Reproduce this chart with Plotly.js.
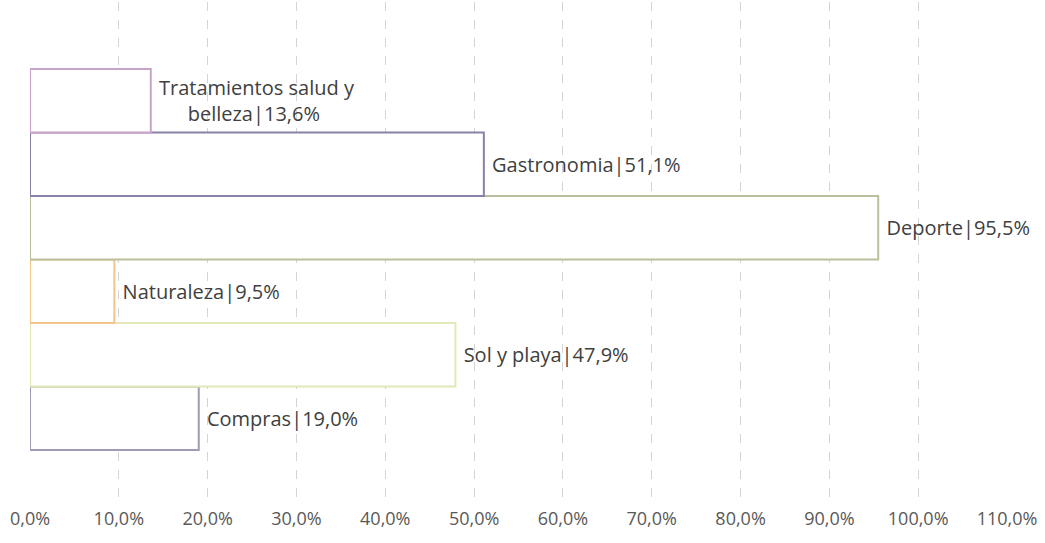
<!DOCTYPE html>
<html>
<head>
<meta charset="utf-8">
<script src="https://cdn.plot.ly/plotly-3.0.1.min.js"></script>
<style>html,body{margin:0;padding:0;background:#fff;}#chart{width:1045px;height:543px;}</style>
</head>
<body>
<div id="chart"></div>
<script>
// Data (bottom to top)
const categories = ["Compras", "Sol y playa", "Naturaleza", "Deporte", "Gastronomia", "Tratamientos salud y<br>belleza"];
const values = [19.0, 47.9, 9.5, 95.5, 51.1, 13.6];
const valueLabels = ["19,0%", "47,9%", "9,5%", "95,5%", "51,1%", "13,6%"];
const tickValues = [0, 10, 20, 30, 40, 50, 60, 70, 80, 90, 100, 110];
const tickLabels = ["0,0%", "10,0%", "20,0%", "30,0%", "40,0%", "50,0%", "60,0%", "70,0%", "80,0%", "90,0%", "100,0%", "110,0%"];

const lineColors = ["#9e9cb4", "#e2e8b8", "#f4c48a", "#b9bf9c", "#8a80a8", "#c9a4c9"];
const fillColors = ["#ffffff", "#ffffff", "#ffffff", "#ffffff", "#ffffff", "#ffffff"];

const texts = categories.map((c, i) => "\u00a0" + c + "|" + valueLabels[i]);

const trace = {
  type: "bar",
  orientation: "h",
  y: categories,
  x: values,
  text: texts,
  textposition: "outside",
  cliponaxis: false,
  constraintext: "none",
  textfont: {family: "Open Sans, sans-serif", size: 20, color: "#404040"},
  marker: {color: fillColors, line: {color: lineColors, width: 2}},
  hoverinfo: "none"
};

const layout = {
  width: 1045, height: 543,
  margin: {l: 30, r: 38, t: 2, b: 43},
  paper_bgcolor: "#ffffff",
  plot_bgcolor: "#ffffff",
  bargap: 0,
  showlegend: false,
  font: {family: "Open Sans, sans-serif", color: "#595959"},
  xaxis: {
    range: [0, 110],
    tickvals: tickValues,
    ticktext: tickLabels,
    showgrid: true,
    gridcolor: "#d4d4d4",
    griddash: "dash",
    gridwidth: 1,
    zeroline: false,
    showline: false,
    ticks: "",
    ticklabelstandoff: 6,
    tickfont: {family: "Open Sans, sans-serif", size: 18, color: "#595959"}
  },
  yaxis: {
    type: "category",
    range: [-1.287, 6.555],
    showticklabels: false,
    showgrid: false,
    zeroline: false,
    showline: false,
    ticks: ""
  }
};

Plotly.newPlot("chart", [trace], layout, {displayModeBar: false, staticPlot: true});
</script>
</body>
</html>
